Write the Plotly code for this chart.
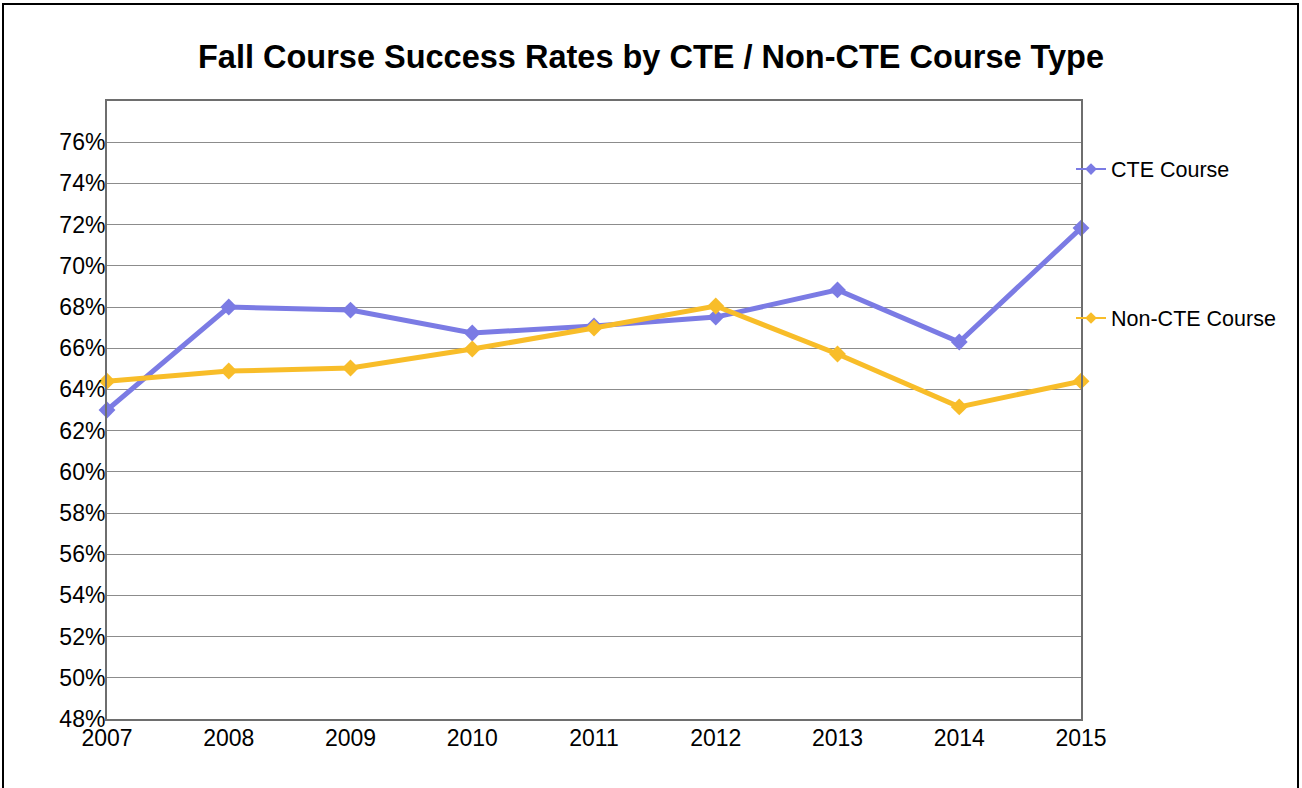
import plotly.graph_objects as go

# Fall success rates (%) by course type
years = [2007, 2008, 2009, 2010, 2011, 2012, 2013, 2014, 2015]
cte_rates = [63.0, 68.0, 67.85, 66.74, 67.08, 67.51, 68.83, 66.3, 71.83]
non_cte_rates = [64.4, 64.89, 65.04, 65.96, 66.98, 68.05, 65.72, 63.15, 64.4]
y_ticks = list(range(48, 78, 2))
y_tick_labels = [f"{v}%" for v in y_ticks]

CTE_COLOR = "#7b7be4"
NON_CTE_COLOR = "#f8bd29"
FONT = "Liberation Sans, Arial, sans-serif"

fig = go.Figure()

# main series
for name, vals, color in [("CTE Course", cte_rates, CTE_COLOR),
                          ("Non-CTE Course", non_cte_rates, NON_CTE_COLOR)]:
    fig.add_trace(go.Scatter(
        x=years, y=vals, mode="lines+markers", name=name,
        line=dict(color=color, width=5),
        marker=dict(symbol="diamond", size=13, color=color),
        showlegend=False, cliponaxis=False,
    ))

# compact legend entries
for i, (name, color) in enumerate([("CTE Course", CTE_COLOR),
                                   ("Non-CTE Course", NON_CTE_COLOR)]):
    fig.add_trace(go.Scatter(
        x=[None], y=[None], mode="lines+markers", name=name,
        line=dict(color=color, width=2),
        marker=dict(symbol="diamond", size=9, color=color),
        legendgroup=f"g{i}",
    ))

fig.update_layout(
    width=1302, height=788,
    margin=dict(l=107, r=221, t=101, b=69),
    paper_bgcolor="white", plot_bgcolor="white",
    font=dict(family=FONT, color="black"),
    title=dict(
        text="<b>Fall Course Success Rates by CTE / Non-CTE Course Type</b>",
        x=0.5, xref="container", xanchor="center",
        y=1 - 57 / 788, yanchor="middle",
        font=dict(size=32.5, family=FONT, color="black"),
    ),
    legend=dict(
        x=(1071 - 107) / 974, xanchor="left", y=0.923, yanchor="top",
        font=dict(size=21.5, family=FONT, color="black"),
        tracegroupgap=118, bgcolor="rgba(0,0,0,0)", borderwidth=0,
    ),
    xaxis=dict(
        range=[2007, 2015], tickvals=years, ticktext=[str(y) for y in years],
        showgrid=False, zeroline=False,
        showline=True, linecolor="#6e6e6e", linewidth=2, mirror=True,
        ticks="", ticklabelstandoff=-3,
        tickfont=dict(size=23, family=FONT, color="black"),
    ),
    yaxis=dict(
        range=[48, 78], tickvals=y_ticks, ticktext=y_tick_labels,
        showgrid=True, gridcolor="#8c8c8c", gridwidth=1, zeroline=False,
        showline=True, linecolor="#6e6e6e", linewidth=2, mirror=True,
        ticks="", ticklabelstandoff=-5,
        tickfont=dict(size=23, family=FONT, color="black"),
    ),
    shapes=[dict(
        type="rect", xref="paper", yref="paper",
        x0=(3 - 107) / 974, x1=(1298 - 107) / 974,
        y0=(719 - 800) / 618, y1=(719 - 4) / 618,
        line=dict(color="black", width=2), fillcolor="rgba(0,0,0,0)",
        layer="below",
    )],
)

fig.write_html("out.html")
